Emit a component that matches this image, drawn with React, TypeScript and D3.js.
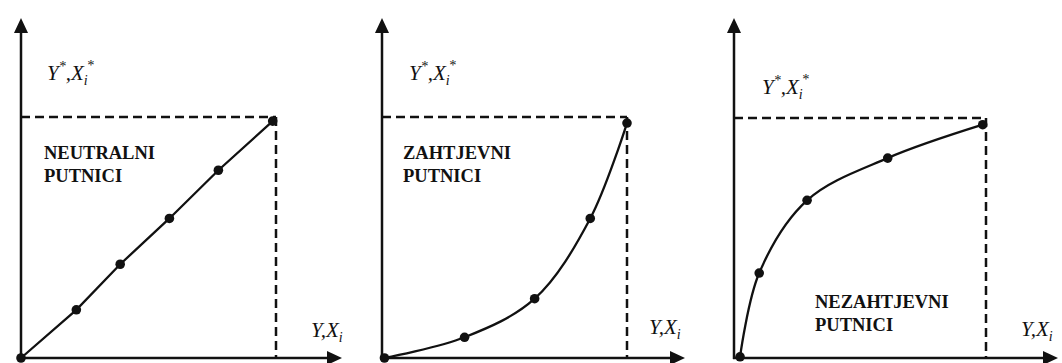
import React from "react";
import * as d3 from "d3";

// ---- data (fractions of the dashed reference box) ----
const panelNames = ["NEUTRALNI", "ZAHTJEVNI", "NEZAHTJEVNI"];
const panelSubNames = ["PUTNICI", "PUTNICI", "PUTNICI"];

const neutralX = [0, 0.217, 0.389, 0.582, 0.774, 0.987];
const neutralY = [0, 0.2, 0.389, 0.579, 0.779, 0.983];

const demandingX = [0.01, 0.337, 0.623, 0.85, 1.0];
const demandingY = [0, 0.086, 0.246, 0.579, 0.975];

const undemandingX = [0.024, 0.1, 0.29, 0.61, 0.987];
const undemandingY = [0.005, 0.354, 0.657, 0.833, 0.972];

const seriesX = [neutralX, demandingX, undemandingX];
const seriesY = [neutralY, demandingY, undemandingY];

// ---- layout ----
const W = 1062;
const H = 363;
const panels = [
  { ox: 21, dx: 276, top: 117, bottom: 358, arrowEnd: 342, yl: [47, 80], nl: [44, 159], xl: [311, 337], curve: d3.curveLinear },
  { ox: 382, dx: 627, top: 117, bottom: 358, arrowEnd: 685, yl: [409, 80], nl: [403, 159], xl: [649, 334], curve: d3.curveCatmullRom },
  { ox: 734, dx: 986, top: 118, bottom: 358, arrowEnd: 1058, yl: [762, 94], nl: [815, 308], xl: [1021, 336], curve: d3.curveCatmullRom },
];

const serif = "Liberation Serif, Times New Roman, serif";

function StarLabel({ x, y }: { x: number; y: number }) {
  return (
    <text x={x} y={y} fontFamily={serif} fontStyle="italic" fontSize={21} fill="#111">
      <tspan>Y</tspan>
      <tspan fontSize={14} dy={-9}>*</tspan>
      <tspan dy={9}>,X</tspan>
      <tspan fontSize={14} dy={5}>i</tspan>
      <tspan fontSize={14} dy={-15} dx={-1}>*</tspan>
    </text>
  );
}

function XLabel({ x, y }: { x: number; y: number }) {
  return (
    <text x={x} y={y} fontFamily={serif} fontStyle="italic" fontSize={21} fill="#111">
      <tspan>Y,X</tspan>
      <tspan fontSize={14} dy={5}>i</tspan>
    </text>
  );
}

function Panel({ idx }: { idx: number }) {
  const p = panels[idx];
  const x = d3.scaleLinear().domain([0, 1]).range([p.ox, p.dx]);
  const y = d3.scaleLinear().domain([0, 1]).range([p.bottom, p.top]);
  const xs = seriesX[idx];
  const ys = seriesY[idx];
  const pts: [number, number][] = xs.map((v, i) => [v, ys[i]]);
  const line = d3
    .line<[number, number]>()
    .x((d) => x(d[0]))
    .y((d) => y(d[1]))
    .curve(p.curve);
  const axisTop = 18;
  return (
    <g>
      {/* dashed reference lines */}
      <line x1={x(0)} y1={y(1)} x2={x(1)} y2={y(1)} stroke="#111" strokeWidth={2.5} strokeDasharray="9 5" />
      <line x1={x(1)} y1={y(1)} x2={x(1)} y2={y(0)} stroke="#111" strokeWidth={2.5} strokeDasharray="9 5" />
      {/* axes */}
      <line x1={p.ox} y1={p.bottom + 1} x2={p.ox} y2={axisTop + 12} stroke="#111" strokeWidth={2.5} />
      <path d={`M${p.ox},${axisTop} L${p.ox - 7},${axisTop + 15} L${p.ox + 7},${axisTop + 15} Z`} fill="#111" />
      <line x1={p.ox - 1} y1={p.bottom} x2={p.arrowEnd - 10} y2={p.bottom} stroke="#111" strokeWidth={2.5} />
      <path d={`M${p.arrowEnd},${p.bottom} L${p.arrowEnd - 15},${p.bottom - 7} L${p.arrowEnd - 15},${p.bottom + 7} Z`} fill="#111" />
      {/* curve */}
      <path d={line(pts) || ""} fill="none" stroke="#111" strokeWidth={2.3} />
      {pts.map((d, i) => (
        <circle key={i} cx={x(d[0])} cy={y(d[1])} r={4.8} fill="#111" />
      ))}
      {/* labels */}
      <StarLabel x={p.yl[0]} y={p.yl[1]} />
      <XLabel x={p.xl[0]} y={p.xl[1]} />
      <text x={p.nl[0]} y={p.nl[1]} fontFamily={serif} fontWeight="bold" fontSize={18.5} fill="#111">
        {panelNames[idx]}
      </text>
      <text x={p.nl[0]} y={p.nl[1] + 23} fontFamily={serif} fontWeight="bold" fontSize={18.5} fill="#111">
        {panelSubNames[idx]}
      </text>
    </g>
  );
}

export default function App() {
  return (
    <svg
      width={W}
      height={H}
      viewBox={`0 0 ${W} ${H}`}
      style={{ position: "absolute", left: 0, top: 0, background: "#fff" }}
    >
      <rect width={W} height={H} fill="#fff" />
      {panels.map((_, i) => (
        <Panel key={i} idx={i} />
      ))}
    </svg>
  );
}
